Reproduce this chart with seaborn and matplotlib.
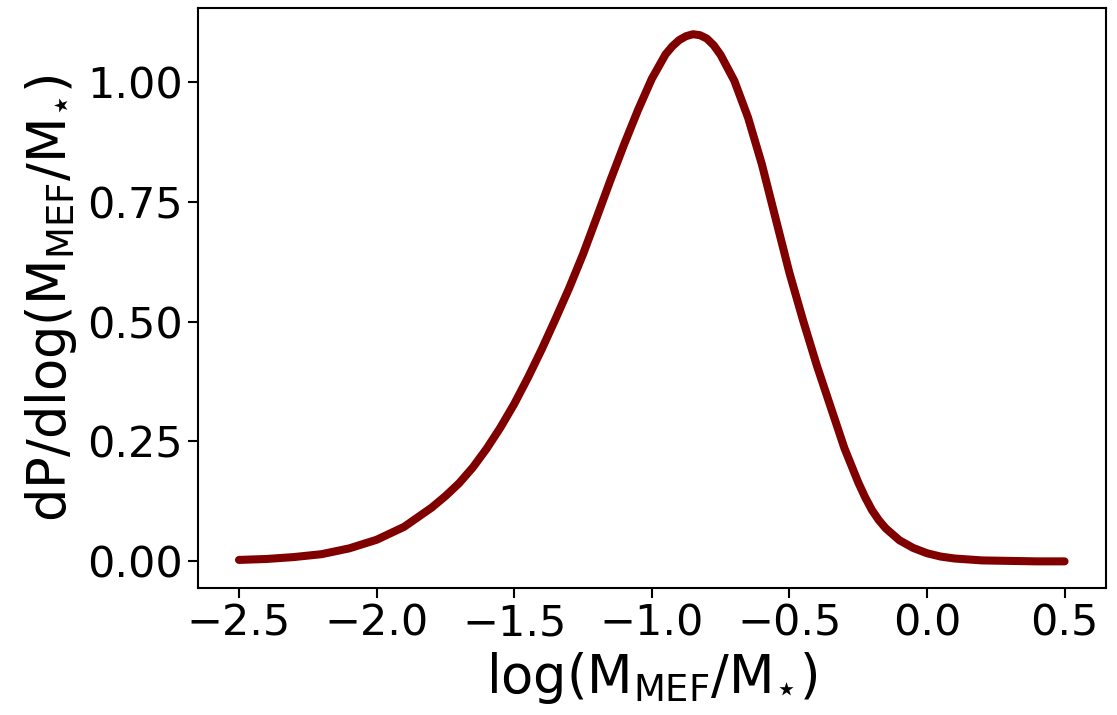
import matplotlib
matplotlib.use("Agg")
import matplotlib.pyplot as plt
import seaborn as sns

# values
log_ratio = [-2.5, -2.4, -2.3, -2.2, -2.1, -2.0, -1.9, -1.8, -1.75, -1.7,
             -1.65, -1.6, -1.55, -1.5, -1.45, -1.4, -1.35, -1.3, -1.25, -1.2,
             -1.15, -1.1, -1.05, -1.0, -0.95, -0.925, -0.9, -0.875, -0.85, -0.825,
             -0.8, -0.775, -0.75, -0.7, -0.65, -0.6, -0.55, -0.5, -0.45, -0.4,
             -0.35, -0.3, -0.25, -0.225, -0.2, -0.175, -0.15, -0.1, -0.05, 0.0,
             0.05, 0.1, 0.2, 0.3, 0.4, 0.5]
density = [0.003, 0.005, 0.009, 0.015, 0.027, 0.045, 0.072, 0.112, 0.136, 0.163,
           0.196, 0.235, 0.279, 0.328, 0.383, 0.442, 0.505, 0.570, 0.640, 0.717,
           0.795, 0.870, 0.941, 1.006, 1.057, 1.074, 1.087, 1.095, 1.099, 1.097,
           1.090, 1.076, 1.056, 1.002, 0.925, 0.828, 0.715, 0.602, 0.502, 0.408,
           0.322, 0.236, 0.165, 0.134, 0.107, 0.086, 0.069, 0.044, 0.028, 0.017,
           0.010, 0.006, 0.002, 0.001, 0.0, 0.0]

sns.set_theme(style="ticks")
plt.rcParams['font.family'] = ['DejaVu Sans']
plt.rcParams['text.color'] = 'black'
plt.rcParams['axes.labelcolor'] = 'black'
plt.rcParams['xtick.color'] = 'black'
plt.rcParams['ytick.color'] = 'black'

fig = plt.figure(figsize=(11.17, 7.15), dpi=100)
ax = fig.add_subplot(1, 1, 1)
fig.subplots_adjust(left=0.177, right=0.990, top=0.989, bottom=0.178)

sns.lineplot(x=log_ratio, y=density, color='#800000', linewidth=5.8, ax=ax)

ax.set_yticks([0.0, 0.25, 0.5, 0.75, 1.0])
ax.set_xticks([-2.5, -2.0, -1.5, -1.0, -0.5, 0.0, 0.5])
ax.tick_params(labelsize=31, length=7, width=1.5, colors='black')
for s in ax.spines.values():
    s.set_linewidth(1.5)
    s.set_color('black')

ax.set_xlabel(r'log(M$_{\rm MEF}$/M$_{\star}$)', fontsize=38, labelpad=4)
ax.set_ylabel(r'dP/dlog(M$_{\rm MEF}$/M$_{\star}$)', fontsize=38, labelpad=6)

fig.savefig('out.png', dpi=100)
